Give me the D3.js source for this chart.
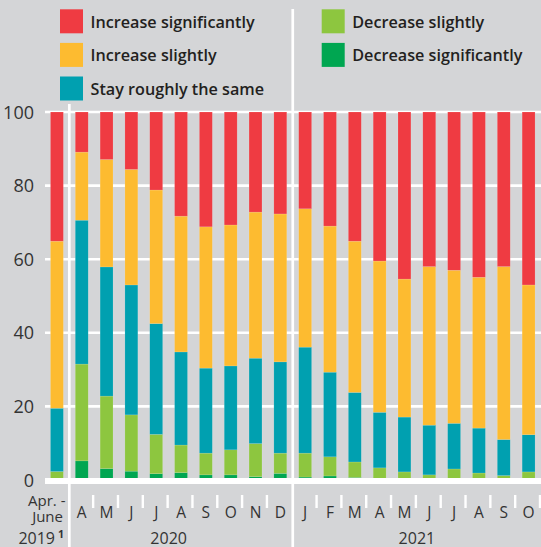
<!DOCTYPE html>
<html>
<head>
<meta charset="utf-8">
<script src="https://cdn.jsdelivr.net/npm/d3@7"></script>
<style>
  html, body { margin: 0; padding: 0; background: #d4d5d7; }
  svg { display: block; font-family: 'Open Sans', sans-serif; }
</style>
</head>
<body>
<div id="chart"></div>
<script>
// periods (x categories) and the year each belongs to
const periods = ['2019', 'A', 'M', 'J', 'J', 'A', 'S', 'O', 'N', 'D',
                 'J', 'F', 'M', 'A', 'M', 'J', 'J', 'A', 'S', 'O'];
const years = ['2019', '2020', '2020', '2020', '2020', '2020', '2020', '2020', '2020', '2020',
               '2021', '2021', '2021', '2021', '2021', '2021', '2021', '2021', '2021', '2021'];

// shares in percent, bottom to top of each stack
const decreaseSignificantly = [0, 5.2, 3.1, 2.4, 1.7, 2.0, 1.4, 1.4, 0.9, 1.8,
                               0.8, 1.1, 0.7, 0.3, 0.3, 0.2, 0.3, 0.2, 0.2, 0.2];
const decreaseSlightly = [2.3, 26.3, 19.7, 15.3, 10.7, 7.5, 5.9, 6.8, 9.0, 5.5,
                          6.5, 5.2, 4.2, 3.0, 1.9, 1.2, 2.7, 1.7, 1.0, 2.0];
const staySame = [17.2, 39.1, 35.1, 35.3, 30.1, 25.3, 23.1, 22.8, 23.2, 24.8,
                  28.8, 23.0, 18.9, 15.1, 14.9, 13.5, 12.4, 12.2, 9.8, 10.1];
const increaseSlightly = [45.4, 18.5, 29.2, 31.4, 36.3, 36.9, 38.4, 38.3, 39.7, 40.2,
                          37.6, 39.7, 41.1, 41.1, 37.5, 43.1, 41.6, 41.0, 47.0, 40.7];
const increaseSignificantly = [35.1, 10.9, 12.9, 15.6, 21.2, 28.3, 31.2, 30.7, 27.2, 27.7,
                               26.3, 31.0, 35.1, 40.5, 45.4, 42.0, 43.0, 44.9, 42.0, 47.0];

const seriesNames = ['Decrease significantly', 'Decrease slightly', 'Stay roughly the same',
                     'Increase slightly', 'Increase significantly'];
const seriesColors = ['#00a651', '#8dc63f', '#00a0b0', '#fdbb30', '#ef3b42'];
const yTicks = [0, 20, 40, 60, 80, 100];

const width = 541, height = 547;

const svg = d3.select('#chart').append('svg')
  .attr('width', width)
  .attr('height', height);

svg.append('rect').attr('width', width).attr('height', height).attr('fill', '#d4d5d7');

// one row per period, keyed by series name
const rows = periods.map((p, i) => ({
  key: i,
  'Decrease significantly': decreaseSignificantly[i],
  'Decrease slightly': decreaseSlightly[i],
  'Stay roughly the same': staySame[i],
  'Increase slightly': increaseSlightly[i],
  'Increase significantly': increaseSignificantly[i]
}));

const x = d3.scaleBand()
  .domain(d3.range(periods.length))
  .range([44.5, 541])
  .paddingInner(0.48)
  .paddingOuter(0.24);

const y = d3.scaleLinear().domain([0, 100]).range([480, 112]);
const color = d3.scaleOrdinal().domain(seriesNames).range(seriesColors);

// grid lines
svg.append('g')
  .selectAll('line')
  .data(yTicks.filter(d => d > 0))
  .join('line')
  .attr('x1', 45).attr('x2', width)
  .attr('y1', d => y(d)).attr('y2', d => y(d))
  .attr('stroke', '#fff')
  .attr('stroke-width', 2.6);

// y labels
svg.append('g')
  .selectAll('text')
  .data(yTicks)
  .join('text')
  .attr('x', 34)
  .attr('y', d => y(d) + 6.5)
  .attr('text-anchor', 'end')
  .attr('font-size', 18)
  .attr('fill', '#333')
  .text(d => d);

// stacked bars
const stacked = d3.stack().keys(seriesNames)(rows);

svg.append('g')
  .selectAll('g')
  .data(stacked)
  .join('g')
  .attr('fill', d => color(d.key))
  .selectAll('rect')
  .data(d => d)
  .join('rect')
  .attr('x', d => x(d.data.key))
  .attr('width', x.bandwidth())
  .attr('y', d => y(d[1]))
  .attr('height', d => y(d[0]) - y(d[1]))
  .attr('stroke', 'rgba(255,255,255,0.25)')
  .attr('stroke-width', 0.5);

// baseline
svg.append('line')
  .attr('x1', 45).attr('x2', width)
  .attr('y1', y(0) + 1).attr('y2', y(0) + 1)
  .attr('stroke', '#fff')
  .attr('stroke-width', 6.2);

// year separators and month ticks
const step = x.step();
const gap = step - x.bandwidth();
periods.forEach((p, i) => {
  const bx = x(i) + x.bandwidth() + gap / 2;
  const nextYear = years[i + 1];
  if (nextYear && nextYear !== years[i]) {
    svg.append('line')
      .attr('x1', bx).attr('x2', bx)
      .attr('y1', years[i] === '2019' ? 104 : 9).attr('y2', height)
      .attr('stroke', '#fff')
      .attr('stroke-width', 2.7);
  } else if (years[i] !== '2019') {
    svg.append('line')
      .attr('x1', bx - 1).attr('x2', bx - 1)
      .attr('y1', 495).attr('y2', 508)
      .attr('stroke', '#fff')
      .attr('stroke-width', 2.4);
  }
});

// month labels
svg.append('g')
  .selectAll('text')
  .data(periods.map((p, i) => ({ p, i })).filter(d => d.i > 0))
  .join('text')
  .attr('x', d => x(d.i) + x.bandwidth() / 2)
  .attr('y', 517.5)
  .attr('text-anchor', 'middle')
  .attr('font-size', 15.5)
  .attr('fill', '#333')
  .text(d => d.p);

// first period label
svg.append('text').attr('x', 65.5).attr('y', 506).attr('text-anchor', 'end')
  .attr('font-size', 15).attr('fill', '#333').text('Apr. -');
svg.append('text').attr('x', 63).attr('y', 521.5).attr('text-anchor', 'end')
  .attr('font-size', 15).attr('fill', '#333').text('June');
const y19 = svg.append('text').attr('x', 64).attr('y', 544).attr('text-anchor', 'end')
  .attr('font-size', 16).attr('fill', '#333');
y19.append('tspan').text('2019');
y19.append('tspan').attr('font-size', 10.5).attr('font-weight', 'bold')
  .attr('dx', 3).attr('dy', -6.5).text('1');

// year labels
const year2020 = d3.mean(d3.range(1, 9), i => x(i) + x.bandwidth() / 2);
const year2021 = d3.mean(d3.range(10, 20), i => x(i) + x.bandwidth() / 2);
svg.append('text').attr('x', year2020).attr('y', 544).attr('text-anchor', 'middle')
  .attr('font-size', 16).attr('fill', '#333').text('2020');
svg.append('text').attr('x', year2021).attr('y', 544).attr('text-anchor', 'middle')
  .attr('font-size', 16).attr('fill', '#333').text('2021');

// legend
const legendItems = [
  { name: 'Increase significantly', col: 0, row: 0 },
  { name: 'Increase slightly', col: 0, row: 1 },
  { name: 'Stay roughly the same', col: 0, row: 2 },
  { name: 'Decrease slightly', col: 1, row: 0 },
  { name: 'Decrease significantly', col: 1, row: 1 }
];
const legendX = [60, 321.7];
const legend = svg.append('g')
  .selectAll('g')
  .data(legendItems)
  .join('g')
  .attr('transform', d => `translate(${legendX[d.col]}, ${9.3 + d.row * 33.6})`);

legend.append('rect')
  .attr('width', 23).attr('height', 24)
  .attr('fill', d => color(d.name));

legend.append('text')
  .attr('x', 30.5).attr('y', 18.5)
  .attr('font-size', 16.2)
  .attr('font-weight', 600)
  .attr('fill', '#231f20')
  .text(d => d.name);
</script>
</body>
</html>
